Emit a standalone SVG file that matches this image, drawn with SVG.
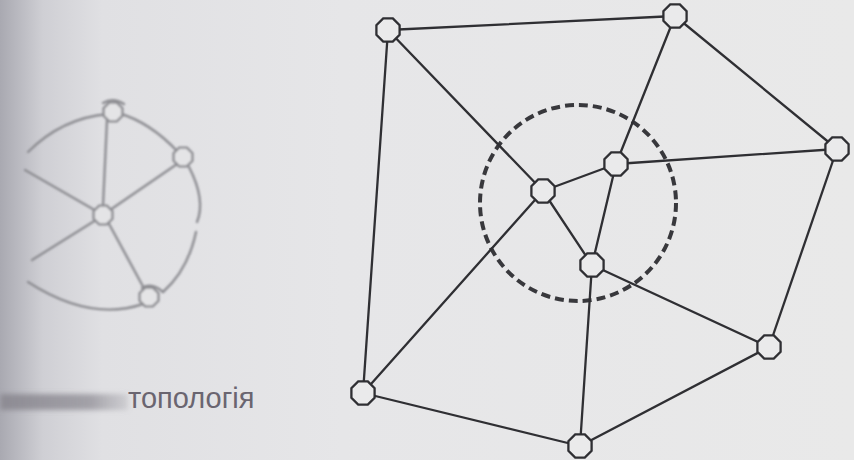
<svg xmlns="http://www.w3.org/2000/svg" xmlns:xlink="http://www.w3.org/1999/xlink" width="854" height="460" viewBox="0 0 854 460">
<defs>
<linearGradient id="bg" x1="0" y1="0" x2="1" y2="0">
<stop offset="0" stop-color="#a9a9b1"/>
<stop offset="0.05" stop-color="#cfcfd4"/>
<stop offset="0.12" stop-color="#e0e0e3"/>
<stop offset="0.4" stop-color="#e6e6e8"/>
<stop offset="1" stop-color="#e9e9e9"/>
</linearGradient>
<linearGradient id="smear" x1="0" y1="0" x2="1" y2="0">
<stop offset="0" stop-color="#8a8890" stop-opacity="0.9"/>
<stop offset="0.7" stop-color="#8a8890" stop-opacity="0.7"/>
<stop offset="1" stop-color="#8a8890" stop-opacity="0.2"/>
</linearGradient>
<filter id="blur" x="-20%" y="-20%" width="140%" height="140%"><feGaussianBlur stdDeviation="1.2"/></filter>
<filter id="blur2" x="-20%" y="-50%" width="140%" height="200%"><feGaussianBlur stdDeviation="2.5"/></filter>
<polygon id="oct" points="4.8,-11.6 11.6,-4.8 11.6,4.8 4.8,11.6 -4.8,11.6 -11.6,4.8 -11.6,-4.8 -4.8,-11.6"/>
<polygon id="octs" points="3.8,-9.4 9.4,-3.8 9.4,3.8 3.8,9.4 -3.8,9.4 -9.4,3.8 -9.4,-3.8 -3.8,-9.4"/>
</defs>
<style>
.edge{stroke:#2f2f33;stroke-width:2.3;fill:none;stroke-linecap:round}
.node use{fill:#eaeaeb;stroke:#2f2f33;stroke-width:2.3}
.ring{fill:none;stroke:#38383c;stroke-width:4;stroke-dasharray:9 5}
.ghost{stroke:#8d8d92;stroke-width:2.4;fill:none;stroke-linecap:round}
.gnode use{fill:#e4e4e6;stroke:#8d8d92;stroke-width:2.4}
.caption{font-family:"Liberation Sans",Arial,sans-serif;font-size:29px;fill:#6a6570}
</style>
<rect width="854" height="460" fill="url(#bg)"/>

<!-- faded left graph -->
<g id="left-graph" filter="url(#blur)">
<g id="left-edges">
<path class="ghost" d="M108,114 Q62,118 28,152"/>
<path class="ghost" d="M118,113 Q150,122 178,152"/>
<path class="ghost" d="M107,120 L103,206"/>
<path class="ghost" d="M180,162 L110,210"/>
<path class="ghost" d="M25,170 L98,212"/>
<path class="ghost" d="M96,220 L32,260"/>
<path class="ghost" d="M108,222 L146,292"/>
<path class="ghost" d="M143,304 Q90,322 28,282"/>
<path class="ghost" d="M189,167 Q206,200 197,222"/>
<path class="ghost" d="M196,232 Q188,270 163,292"/>
<path class="ghost" d="M103,103 Q113,97 124,104"/>
<path class="ghost" d="M142,288 Q152,282 163,292"/>
</g>
<g id="ln-top" class="gnode"><use href="#octs" x="113" y="112"/></g>
<g id="ln-right" class="gnode"><use href="#octs" x="183" y="157"/></g>
<g id="ln-center" class="gnode"><use href="#octs" x="103" y="215"/></g>
<g id="ln-bottom" class="gnode"><use href="#octs" x="149" y="297"/></g>
</g>

<!-- caption -->
<g id="caption">
<rect x="0" y="394" width="128" height="16" fill="url(#smear)" filter="url(#blur2)"/>
<text class="caption" x="128" y="408">топологія</text>
</g>

<!-- dashed circle -->
<circle id="zone" class="ring" cx="578" cy="203" r="98"/>

<!-- connectors -->
<g id="connectors">
<line class="edge" x1="388" y1="30" x2="675" y2="16"/>
<line class="edge" x1="388" y1="30" x2="543" y2="191"/>
<line class="edge" x1="388" y1="30" x2="363" y2="393"/>
<line class="edge" x1="675" y1="16" x2="837" y2="149"/>
<line class="edge" x1="675" y1="16" x2="616" y2="164"/>
<line class="edge" x1="616" y1="164" x2="837" y2="149"/>
<line class="edge" x1="616" y1="164" x2="543" y2="191"/>
<line class="edge" x1="616" y1="164" x2="592" y2="265"/>
<line class="edge" x1="543" y1="191" x2="363" y2="393"/>
<line class="edge" x1="543" y1="191" x2="592" y2="265"/>
<line class="edge" x1="592" y1="265" x2="769" y2="347"/>
<line class="edge" x1="592" y1="265" x2="580" y2="446"/>
<line class="edge" x1="837" y1="149" x2="769" y2="347"/>
<line class="edge" x1="769" y1="347" x2="580" y2="446"/>
<line class="edge" x1="363" y1="393" x2="580" y2="446"/>
</g>

<!-- nodes -->
<g id="nA" class="node"><use href="#oct" x="388" y="30"/></g>
<g id="nB" class="node"><use href="#oct" x="675" y="16"/></g>
<g id="nC" class="node"><use href="#oct" x="837" y="149"/></g>
<g id="nD" class="node"><use href="#oct" x="616" y="164"/></g>
<g id="nE" class="node"><use href="#oct" x="543" y="191"/></g>
<g id="nF" class="node"><use href="#oct" x="592" y="265"/></g>
<g id="nG" class="node"><use href="#oct" x="769" y="347"/></g>
<g id="nH" class="node"><use href="#oct" x="580" y="446"/></g>
<g id="nI" class="node"><use href="#oct" x="363" y="393"/></g>
</svg>
